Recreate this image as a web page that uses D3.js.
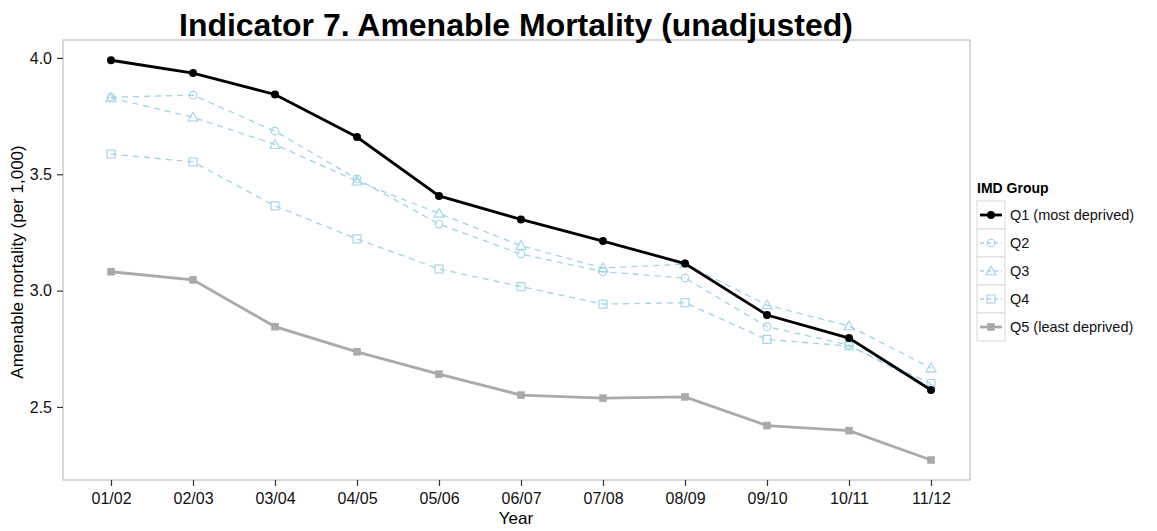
<!DOCTYPE html>
<html>
<head>
<meta charset="utf-8">
<script src="https://cdn.jsdelivr.net/npm/d3@7"></script>
<style>
  body { margin: 0; background: #fff; }
  text { font-family: "Liberation Sans", Arial, sans-serif; }
</style>
</head>
<body>
<svg id="chart" width="1157" height="531"></svg>
<script>
// data
var years = ["01/02", "02/03", "03/04", "04/05", "05/06", "06/07", "07/08", "08/09", "09/10", "10/11", "11/12"];
var q1 = [3.99, 3.935, 3.843, 3.66, 3.407, 3.306, 3.213, 3.116, 2.895, 2.796, 2.573];
var q2 = [3.831, 3.84, 3.685, 3.48, 3.286, 3.157, 3.081, 3.054, 2.845, 2.766, 2.58];
var q3 = [3.828, 3.745, 3.628, 3.47, 3.332, 3.193, 3.097, 3.114, 2.938, 2.848, 2.667];
var q4 = [3.587, 3.553, 3.364, 3.222, 3.093, 3.017, 2.942, 2.948, 2.79, 2.762, 2.6];
var q5 = [3.081, 3.046, 2.845, 2.737, 2.641, 2.551, 2.538, 2.543, 2.42, 2.398, 2.272];
var yTicks = [2.5, 3.0, 3.5, 4.0];
var groupNames = ["Q1 (most deprived)", "Q2", "Q3", "Q4", "Q5 (least deprived)"];

var series = [
  {name: groupNames[0], values: q1, color: "#000000", width: 2.8, dash: null, shape: "dot"},
  {name: groupNames[1], values: q2, color: "#9fd3e6", width: 1.3, dash: "6,5", shape: "circle"},
  {name: groupNames[2], values: q3, color: "#9fd3e6", width: 1.3, dash: "6,5", shape: "triangle"},
  {name: groupNames[3], values: q4, color: "#9fd3e6", width: 1.3, dash: "6,5", shape: "square"},
  {name: groupNames[4], values: q5, color: "#aaaaaa", width: 2.8, dash: null, shape: "fsquare"}
];

var svg = d3.select("#chart");
var m = {left: 63, top: 40, right: 970, bottom: 480};

var x = d3.scalePoint().domain(years).range([111, 931]);
var y = d3.scaleLinear().domain([2.186, 4.077]).range([m.bottom, m.top]);

// panel
svg.append("rect")
  .attr("x", m.left).attr("y", m.top)
  .attr("width", m.right - m.left).attr("height", m.bottom - m.top)
  .attr("fill", "#fff").attr("stroke", "#b3b3b3").attr("stroke-width", 1);

// axes
var xAxis = svg.append("g")
  .attr("transform", "translate(0," + m.bottom + ")")
  .call(d3.axisBottom(x).tickSize(6).tickPadding(7));
var yAxis = svg.append("g")
  .attr("transform", "translate(" + m.left + ",0)")
  .call(d3.axisLeft(y).tickValues(yTicks).tickFormat(d3.format(".1f")).tickSize(6).tickPadding(5));
[xAxis, yAxis].forEach(function (g) {
  g.select(".domain").remove();
  g.selectAll(".tick line").attr("stroke", "#333").attr("stroke-width", 1.2);
  g.selectAll(".tick text").attr("fill", "#111").attr("font-size", 16)
    .attr("font-family", "'Liberation Sans', Arial, sans-serif");
});

svg.append("text")
  .attr("x", 516).attr("y", 524)
  .attr("text-anchor", "middle").attr("font-size", 17)
  .text("Year");
svg.append("text")
  .attr("transform", "translate(23,262) rotate(-90)")
  .attr("text-anchor", "middle").attr("font-size", 17)
  .text("Amenable mortality (per 1,000)");

function drawShape(g, shape, color, cx, cy) {
  if (shape === "dot") {
    g.append("circle").attr("cx", cx).attr("cy", cy).attr("r", 4).attr("fill", color);
  } else if (shape === "circle") {
    g.append("circle").attr("cx", cx).attr("cy", cy).attr("r", 3.8)
      .attr("fill", "none").attr("stroke", color).attr("stroke-width", 1.1);
  } else if (shape === "triangle") {
    var s = 5;
    g.append("path")
      .attr("d", "M" + cx + "," + (cy - s) + "L" + (cx + s) + "," + (cy + s * 0.75) + "L" + (cx - s) + "," + (cy + s * 0.75) + "Z")
      .attr("fill", "none").attr("stroke", color).attr("stroke-width", 1.1);
  } else if (shape === "square") {
    g.append("rect").attr("x", cx - 4).attr("y", cy - 4).attr("width", 8).attr("height", 8)
      .attr("fill", "none").attr("stroke", color).attr("stroke-width", 1.1);
  } else {
    g.append("rect").attr("x", cx - 3.8).attr("y", cy - 3.8).attr("width", 7.6).attr("height", 7.6)
      .attr("fill", color);
  }
}

var line = d3.line()
  .x(function (d, i) { return x(years[i]); })
  .y(function (d) { return y(d); });

// draw light series first, then Q5 and Q1 on top
var order = [3, 2, 1, 4, 0];
order.forEach(function (k) {
  var s = series[k];
  var g = svg.append("g");
  g.append("path")
    .attr("d", line(s.values))
    .attr("fill", "none")
    .attr("stroke", s.color)
    .attr("stroke-width", s.width)
    .attr("stroke-dasharray", s.dash);
  s.values.forEach(function (v, i) {
    drawShape(g, s.shape, s.color, x(years[i]), y(v));
  });
});

// legend
var lg = svg.append("g").attr("transform", "translate(977,0)");
lg.append("text").attr("x", 0).attr("y", 193)
  .attr("font-weight", "bold").attr("font-size", 14).text("IMD Group");
series.forEach(function (s, i) {
  var top = 201 + i * 28;
  lg.append("rect").attr("x", 0).attr("y", top).attr("width", 28).attr("height", 28)
    .attr("fill", "#fff").attr("stroke", "#d9d9d9").attr("stroke-width", 1);
  lg.append("line").attr("x1", 3).attr("x2", 25).attr("y1", top + 14).attr("y2", top + 14)
    .attr("stroke", s.color).attr("stroke-width", s.width)
    .attr("stroke-dasharray", s.dash ? "4,3" : null);
  drawShape(lg, s.shape, s.color, 14, top + 14);
  lg.append("text").attr("x", 33).attr("y", top + 19)
    .attr("font-size", 14.5).attr("fill", "#111").text(s.name);
});

// title drawn last so the descenders sit over the panel border
svg.append("text")
  .attr("x", 516).attr("y", 36)
  .attr("text-anchor", "middle")
  .attr("font-weight", "bold")
  .attr("font-size", 31)
  .attr("textLength", 674)
  .attr("lengthAdjust", "spacingAndGlyphs")
  .text("Indicator 7. Amenable Mortality (unadjusted)");
</script>
</body>
</html>
